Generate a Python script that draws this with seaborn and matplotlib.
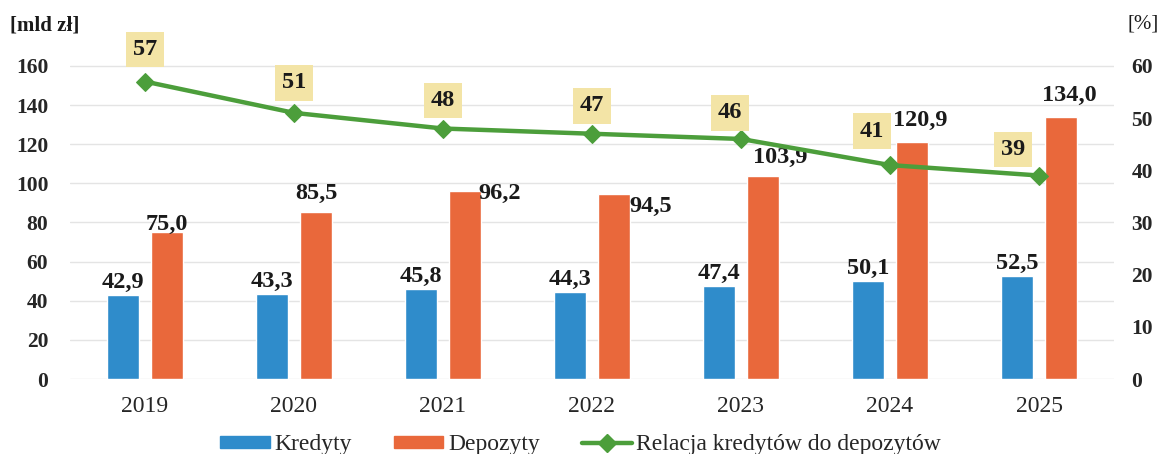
import numpy as np
import pandas as pd
import matplotlib.pyplot as plt
import seaborn as sns

years = ["2019", "2020", "2021", "2022", "2023", "2024", "2025"]
kredyty = [42.9, 43.3, 45.8, 44.3, 47.4, 50.1, 52.5]
depozyty = [75.0, 85.5, 96.2, 94.5, 103.9, 120.9, 134.0]
relacja = [57, 51, 48, 47, 46, 41, 39]

BLUE = "#2f8ccb"
ORANGE = "#e9683b"
GREEN = "#4c9e3b"
BOX = "#f3e4a6"

sns.set_theme(style="white")
plt.rcParams["font.family"] = ["Liberation Serif", "DejaVu Serif"]

df = pd.DataFrame({
    "rok": years * 2,
    "wartosc": kredyty + depozyty,
    "seria": ["Kredyty"] * len(years) + ["Depozyty"] * len(years),
})

fig = plt.figure(figsize=(11.61, 4.54), dpi=100)
ax = fig.add_axes([0.0607, 0.165, 0.8984, 0.733])

sns.barplot(data=df, x="rok", y="wartosc", hue="seria",
            palette=[BLUE, ORANGE], width=0.59, gap=0.27,
            saturation=1, ax=ax, legend=False)

ax.set_ylim(0, 170)
ax.set_xlim(-0.5, 6.5)
ax.set_yticks(range(0, 161, 20))
ax.yaxis.grid(True, color="#e4e4e4", linewidth=1)
ax.set_axisbelow(True)
for s in ax.spines.values():
    s.set_visible(False)
ax.set_xlabel("")
ax.set_ylabel("")
ax.tick_params(axis="x", labelsize=17, length=0, pad=12)
ax.tick_params(axis="y", labelsize=15.5, length=0, pad=16)
for t in ax.get_yticklabels():
    t.set_fontweight("bold")

def fmt(v):
    return f"{v:.1f}".replace(".", ",")

# value labels over bars (pixel nudges for the deposit labels)
dep_shift = {0: (0, 8), 1: (0, 18), 2: (35, -3), 3: (37, -12),
             4: (17, 18), 5: (8, 22), 6: (8, 21)}
for i, bar in enumerate(ax.containers[0]):
    ax.annotate(fmt(kredyty[i]), (bar.get_x() + bar.get_width() / 2, bar.get_height()),
                xytext=(0, 13), textcoords="offset pixels", ha="center", va="center",
                fontsize=17.5, fontweight="bold", color="#1a1a1a")
for i, bar in enumerate(ax.containers[1]):
    dx, dy = dep_shift[i]
    ax.annotate(fmt(depozyty[i]), (bar.get_x() + bar.get_width() / 2, bar.get_height()),
                xytext=(dx, dy), textcoords="offset pixels", ha="center", va="center",
                fontsize=17.5, fontweight="bold", color="#1a1a1a")

ax2 = ax.twinx()
sns.lineplot(x=np.arange(len(years)), y=relacja, ax=ax2, color=GREEN,
             linewidth=3.2, marker="D", markersize=9, markeredgecolor=GREEN)
ax2.set_ylim(0, 170 * 60 / 160)
ax2.set_yticks(range(0, 61, 10))
for s in ax2.spines.values():
    s.set_visible(False)
ax2.tick_params(axis="y", labelsize=15.5, length=0, pad=13)
for t in ax2.get_yticklabels():
    t.set_fontweight("bold")

line_shift = {0: (0, 32), 1: (0, 30), 4: (-11, 26), 5: (-18, 34), 6: (-26, 26)}
for i, v in enumerate(relacja):
    dx, dy = line_shift.get(i, (0, 28))
    ax2.annotate(str(v), (i, v), xytext=(dx, dy), textcoords="offset pixels",
                 ha="center", va="center", fontsize=17.5, fontweight="bold",
                 color="#1a1a1a",
                 bbox=dict(boxstyle="square,pad=0.3", facecolor=BOX, edgecolor="none"))

fig.text(0.009, 0.932, "[mld zł]", fontsize=15, fontweight="bold", color="#1a1a1a")
fig.text(0.971, 0.938, "[%]", fontsize=15, color="#1a1a1a")

handles = [
    plt.Rectangle((0, 0), 1, 1, color=BLUE),
    plt.Rectangle((0, 0), 1, 1, color=ORANGE),
    plt.Line2D([], [], color=GREEN, linewidth=3.2, marker="D", markersize=9),
]
fig.legend(handles, ["Kredyty", "Depozyty", "Relacja kredytów do depozytów"],
           loc="lower center", bbox_to_anchor=(0.5, -0.05), ncol=3, frameon=False,
           fontsize=17, handlelength=2.1, handleheight=0.4, handletextpad=0.2,
           columnspacing=1.78)

fig.savefig("out.png", dpi=100)
